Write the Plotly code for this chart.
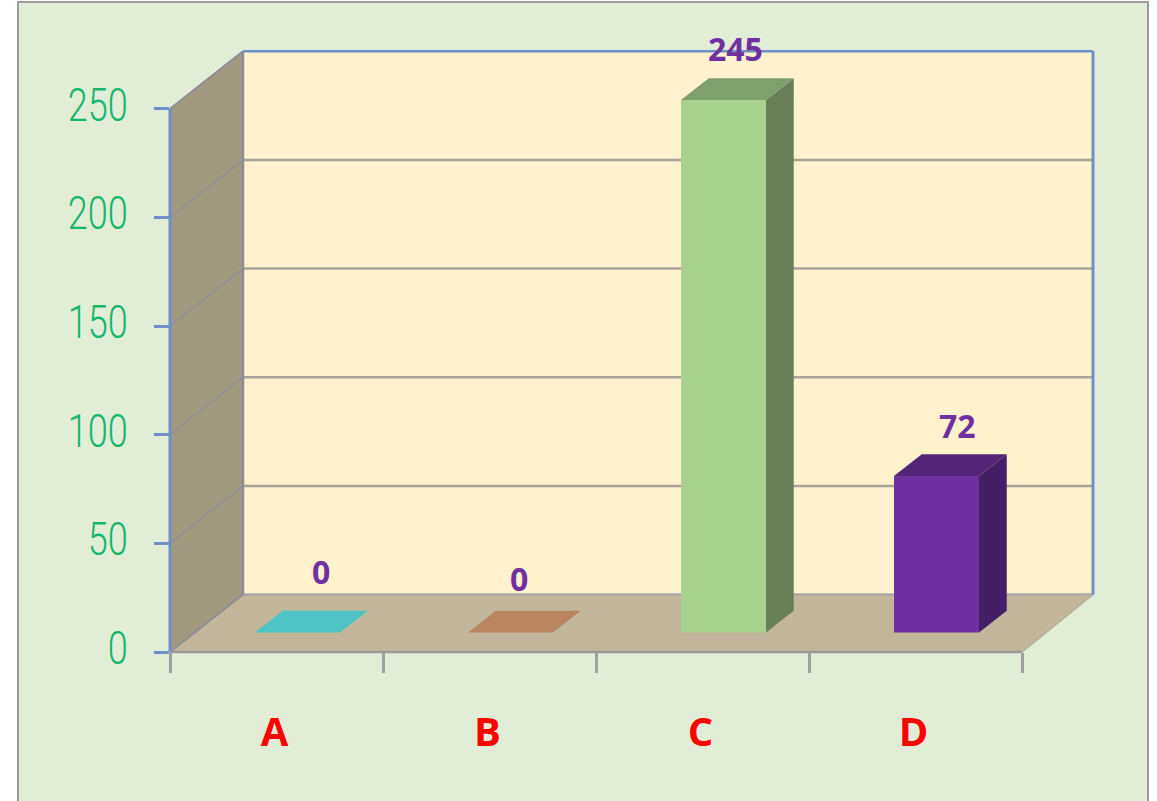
import plotly.graph_objects as go

categories = ["A", "B", "C", "D"]
values = [0, 0, 245, 72]
front_colors = ["#4EC4C6", "#B98660", "#A9D18E", "#7030A0"]
top_colors = ["#4EC4C6", "#B98660", "#7F9F6B", "#542477"]
side_colors = ["#3A9395", "#8B6548", "#687F58", "#451F66"]
y_ticks = [0, 50, 100, 150, 200, 250]
label_xshift = [23.5, 8.5, 11.5, 20.5]
label_yshift = [39, 32, 30, 29]

W, H = 1157, 801
L, R, T, B = 170, 1093, 51, 652.5
PX_X = 213.0
PX_Y = 2.175
DX = 73 / PX_X
DY = 57.5 / PX_Y
XMIN = -0.5
XMAX = XMIN + (R - L) / PX_X
YMAX = (B - T) / PX_Y
D1, D2 = 0.34, 0.72
BAR_W = 85 / PX_X
BAR_SHIFT = 21 / PX_X
LABEL_SHIFT = 2 / PX_X
LINE_BLUE = "#6F8FC9"
GRID = "#A6A497"

fig = go.Figure()
shapes = []


def poly(xs, ys, fill):
    path = "M " + " L ".join(f"{x},{y}" for x, y in zip(xs, ys)) + " Z"
    shapes.append(dict(type="path", path=path, xref="x", yref="y", fillcolor=fill,
                       line=dict(color=fill, width=1), layer="below"))


def seg(x0, y0, x1, y1, color, width=2):
    shapes.append(dict(type="line", xref="x", yref="y", x0=x0, y0=y0, x1=x1, y1=y1,
                       line=dict(color=color, width=width), layer="below"))


def edge(x0, y0, x1, y1, color, width):
    # paper-referenced so that the stroke is not cut at the plot area
    fx = lambda x: (x - XMIN) / (XMAX - XMIN)
    fy = lambda y: y / YMAX
    shapes.append(dict(type="line", xref="paper", yref="paper",
                       x0=fx(x0), y0=fy(y0), x1=fx(x1), y1=fy(y1),
                       line=dict(color=color, width=width), layer="above"))


top_val = y_ticks[-1]
x_front_r = XMIN + len(categories)

# frame of the chart area
shapes.append(dict(type="rect", xref="paper", yref="paper",
                   x0=(18 - L) / (R - L), x1=(1148 - L) / (R - L),
                   y0=(B - (H + 10)) / (B - T), y1=(B - 2) / (B - T),
                   fillcolor="#E2EDD8", line=dict(color="#9C9C9C", width=2), layer="below"))
# walls and floor
poly([XMIN + DX, XMAX, XMAX, XMIN + DX], [DY, DY, top_val + DY, top_val + DY], "#FFF2CC")
poly([XMIN, XMIN + DX, XMIN + DX, XMIN], [0, DY, top_val + DY, top_val], "#A29A80")
poly([XMIN, x_front_r, XMAX, XMIN + DX], [0, 0, DY, DY], "#C2B79A")
# gridlines
for t in y_ticks:
    if 0 < t < top_val:
        seg(XMIN + DX, t + DY, XMAX, t + DY, GRID, 2.5)
        seg(XMIN, t, XMIN + DX, t + DY, "#8E8E98", 1.5)
# inner edges
seg(XMIN + DX, DY, XMAX, DY, "#A9A9A9", 2.5)
seg(XMIN + DX, DY, XMIN + DX, top_val + DY, "#8E8E98", 2.5)
seg(XMIN, 0, XMIN + DX, DY, "#8E8E98", 2)
seg(XMIN, top_val, XMIN + DX, top_val + DY, "#8E8E98", 2)
seg(x_front_r, 0, XMAX, DY, "#B4AE9A", 1.5)

# outer edges
edge(XMIN, 0, x_front_r, 0, "#9A9A9A", 2.5)
edge(XMIN + DX, top_val + DY, XMAX, top_val + DY, LINE_BLUE, 2.5)
edge(XMAX, top_val + DY, XMAX, DY, LINE_BLUE, 3)
edge(XMIN, 0, XMIN, top_val, LINE_BLUE, 3)

base = D1 * DY
xc = [i + BAR_SHIFT for i in range(len(categories))]
fig.add_trace(go.Bar(x=xc, y=values, base=base, width=BAR_W,
                     marker=dict(color=front_colors, line=dict(width=0)),
                     hoverinfo="skip", showlegend=False))

dz = D2 - D1
for i, v in enumerate(values):
    x0 = xc[i] - BAR_W / 2
    x1 = xc[i] + BAR_W / 2
    y0 = base
    y1 = base + v
    ddx, ddy = dz * DX, dz * DY
    fig.add_trace(go.Scatter(x=[x1, x1 + ddx, x1 + ddx, x1, x1],
                             y=[y0, y0 + ddy, y1 + ddy, y1, y0],
                             mode="lines", fill="toself", fillcolor=side_colors[i],
                             line=dict(width=0), hoverinfo="skip", showlegend=False))
    fig.add_trace(go.Scatter(x=[x0, x1, x1 + ddx, x0 + ddx, x0],
                             y=[y1, y1, y1 + ddy, y1 + ddy, y1],
                             mode="lines", fill="toself", fillcolor=top_colors[i],
                             line=dict(width=0), hoverinfo="skip", showlegend=False))

annotations = [
    dict(x=xc[i], y=base + v + dz * DY, text=str(v), showarrow=False,
         xshift=label_xshift[i], yshift=label_yshift[i],
         font=dict(family="Open Sans", size=32, color="#7030A0", weight="bold"))
    for i, v in enumerate(values)
]

fig.update_layout(
    width=W, height=H, autosize=False,
    margin=dict(l=L, r=W - R, t=T, b=H - B, pad=0),
    paper_bgcolor="white", plot_bgcolor="rgba(0,0,0,0)",
    shapes=shapes, annotations=annotations, showlegend=False,
    xaxis=dict(range=[XMIN, XMAX], tickmode="array",
               tickvals=[i - LABEL_SHIFT for i in range(len(categories))], ticktext=categories,
               ticks="", showgrid=False, zeroline=False, showline=False,
               ticklabelstandoff=53,
               tickfont=dict(family="Open Sans", size=40, color="#FF0000", weight="bold"),
               minor=dict(tickmode="array", tickvals=[XMIN + i for i in range(len(categories) + 1)],
                          ticks="outside", ticklen=20, tickwidth=2.5, tickcolor="#A0A0A0",
                          showgrid=False)),
    yaxis=dict(range=[0, YMAX], tickmode="array", tickvals=y_ticks,
               ticks="outside", ticklen=15, tickwidth=2.5, tickcolor=LINE_BLUE,
               showgrid=False, zeroline=False, showline=False,
               ticklabelstandoff=17,
               tickfont=dict(family="Roboto", size=46, color="#12B76A", weight=300)),
)

# the reference's tick numerals use a narrow face: squeeze the real text to that width
squeeze = """
document.body.style.margin='0';document.body.style.overflow='hidden';
document.querySelectorAll('.ytick text').forEach(function(t){
  t.setAttribute('textLength', String(20*t.textContent.length));
  t.setAttribute('lengthAdjust','spacingAndGlyphs');
  t.setAttribute('dy','-4');
});
"""
fig.write_html("out.html", config={"displayModeBar": False}, post_script=squeeze)
